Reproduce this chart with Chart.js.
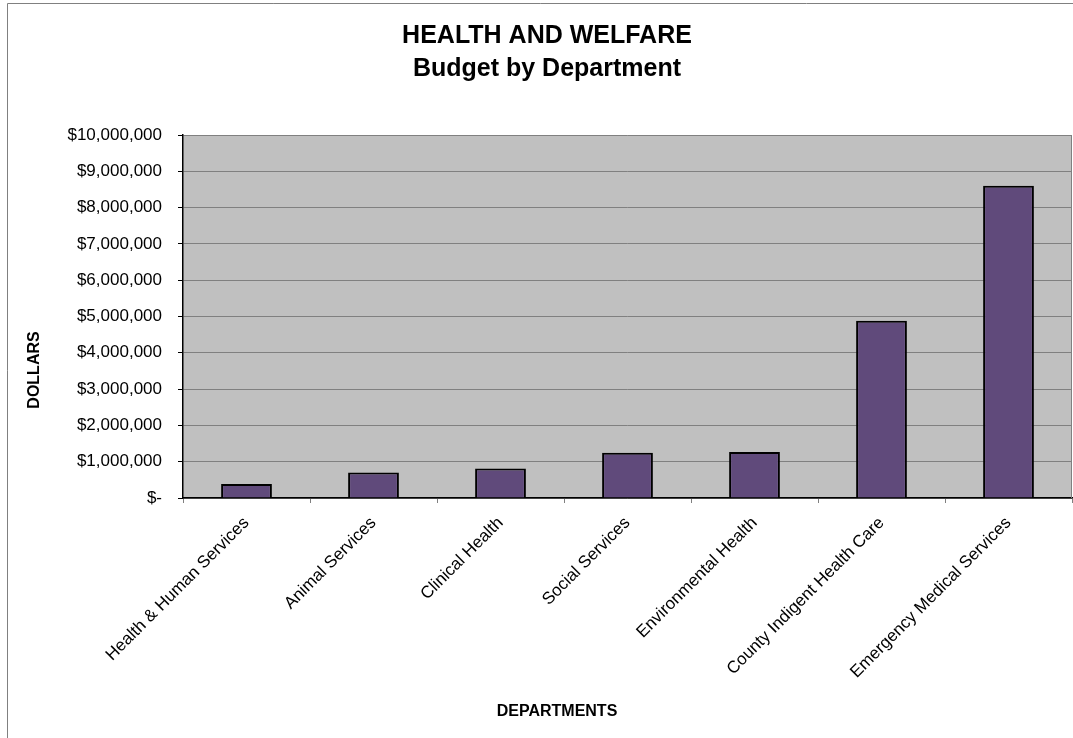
<!DOCTYPE html>
<html>
<head>
<meta charset="utf-8">
<script src="https://cdn.jsdelivr.net/npm/chart.js@4"></script>
<style>
  html, body { margin: 0; padding: 0; background: #fff; }
  #wrap { width: 1073px; height: 738px; }
</style>
</head>
<body>
<div id="wrap"><canvas id="c" width="1073" height="738"></canvas></div>
<script>
const departments = [
  "Health & Human Services",
  "Animal Services",
  "Clinical Health",
  "Social Services",
  "Environmental Health",
  "County Indigent Health Care",
  "Emergency Medical Services"
];
const budget = [385000, 700000, 815000, 1250000, 1270000, 4880000, 8600000];
const titleLines = ["HEALTH AND WELFARE", "Budget by Department"];
const yAxisTitle = "DOLLARS";
const xAxisTitle = "DEPARTMENTS";
const yMin = 0, yMax = 10000000, yStep = 1000000;

const FONT = "'Liberation Sans', Arial, sans-serif";

function fmtDollar(v) {
  if (v === 0) return "$-";
  return "$" + Math.round(v).toLocaleString("en-US");
}

const framePlugin = {
  id: "frame",
  beforeDraw(chart) {
    const ctx = chart.ctx, a = chart.chartArea;
    ctx.save();
    ctx.fillStyle = "#ffffff";
    ctx.fillRect(0, 0, chart.width, chart.height);
    ctx.fillStyle = "#C0C0C0";
    ctx.fillRect(a.left, a.top, a.right - a.left, a.bottom - a.top);
    ctx.strokeStyle = "#808080";
    ctx.lineWidth = 1;
    ctx.beginPath();
    ctx.moveTo(7.5, chart.height);
    ctx.lineTo(7.5, 3.5);
    ctx.lineTo(chart.width, 3.5);
    ctx.stroke();
    ctx.restore();
  },
  afterDraw(chart) {
    const ctx = chart.ctx, a = chart.chartArea;
    ctx.save();
    ctx.strokeStyle = "#808080";
    ctx.lineWidth = 1;
    ctx.beginPath();
    ctx.moveTo(a.right - 0.5, a.top);
    ctx.lineTo(a.right - 0.5, a.bottom);
    ctx.stroke();
    ctx.fillStyle = "#000";
    ctx.font = "bold 16px " + FONT;
    ctx.textAlign = "center";
    ctx.textBaseline = "middle";
    ctx.fillText(xAxisTitle, 557, 712);
    ctx.translate(35, 370);
    ctx.rotate(-Math.PI / 2);
    ctx.fillText(yAxisTitle, 0, 0);
    ctx.restore();
  }
};

new Chart(document.getElementById("c"), {
  type: "bar",
  data: {
    labels: departments,
    datasets: [{
      data: budget,
      backgroundColor: "#604A7B",
      borderColor: "#000000",
      borderWidth: 2,
      categoryPercentage: 1.0,
      barPercentage: 0.4
    }]
  },
  options: {
    responsive: false,
    animation: false,
    devicePixelRatio: 1,
    layout: { padding: { left: 22, right: 1, top: 0, bottom: 0 } },
    plugins: {
      legend: { display: false },
      tooltip: { enabled: false },
      title: {
        display: true,
        text: titleLines,
        color: "#000",
        font: { family: FONT, size: 25, weight: "bold", lineHeight: 1.3 },
        padding: { top: 20, bottom: 50 }
      }
    },
    scales: {
      x: {
        afterFit(scale) { scale.height = 240; },
        grid: {
          offset: true,
          drawOnChartArea: false,
          drawTicks: true,
          tickLength: 5,
          tickColor: "#808080",
          color: "#808080"
        },
        border: { display: true, color: "#000", width: 1.5 },
        ticks: {
          color: "#000",
          font: { family: FONT, size: 17 },
          maxRotation: 45,
          minRotation: 45,
          autoSkip: false,
          padding: 10
        }
      },
      y: {
        min: yMin,
        max: yMax,
        afterFit(scale) { scale.width = 161; },
        grid: {
          color: "#808080",
          lineWidth: 1,
          drawTicks: true,
          tickLength: 5,
          tickColor: "#000"
        },
        border: { display: true, color: "#000", width: 1.5 },
        ticks: {
          stepSize: yStep,
          color: "#000",
          font: { family: FONT, size: 17 },
          padding: 16,
          callback: (v) => fmtDollar(v)
        }
      }
    }
  },
  plugins: [framePlugin]
});
</script>
</body>
</html>
